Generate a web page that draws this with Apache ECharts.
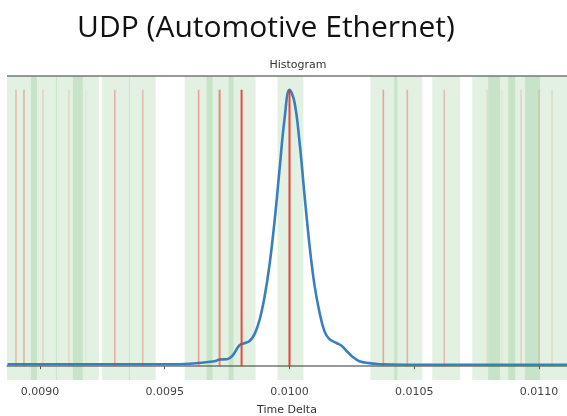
<!DOCTYPE html>
<html>
<head>
<meta charset="utf-8">
<script src="https://cdn.jsdelivr.net/npm/echarts@6/dist/echarts.min.js"></script>
<style>html,body{margin:0;padding:0;background:#fff}#c{width:567px;height:416px}</style>
</head>
<body>
<div id="c"></div>
<script>
// ---- data ----
var tickValues = [0.0090, 0.0095, 0.0100, 0.0105, 0.0110];

// density curve (Time Delta, normalised density)
var curveX = [0.00887, 0.0092, 0.0095, 0.0096, 0.00970, 0.00972, 0.00975, 0.00977, 0.00980, 0.00982,
              0.00984, 0.00986, 0.00988, 0.00990, 0.00992, 0.00994, 0.00996, 0.00998, 0.01000, 0.01002,
              0.01004, 0.01006, 0.01008, 0.01010, 0.01012, 0.01014, 0.01016, 0.01019, 0.01021, 0.01023,
              0.01025, 0.01028, 0.01032, 0.01036, 0.0106, 0.01112];
var curveY = [0.007, 0.007, 0.007, 0.009, 0.018, 0.024, 0.025, 0.036, 0.076, 0.083,
              0.091, 0.116, 0.167, 0.250, 0.367, 0.523, 0.711, 0.893, 1.000, 0.955,
              0.813, 0.621, 0.439, 0.294, 0.196, 0.127, 0.098, 0.083, 0.073, 0.054,
              0.036, 0.018, 0.011, 0.007, 0.005, 0.005];

// marker lines (position, weight)
var markerX = [0.008904, 0.008936, 0.009012, 0.009116, 0.009184, 0.009300, 0.009412, 0.009636, 0.009720, 0.009808,
               0.010000, 0.010376, 0.010472, 0.010620, 0.010792, 0.010852, 0.010928, 0.011000, 0.011052];
var markerW = [0.28, 0.32, 0.14, 0.12, 0.04, 0.32, 0.26, 0.38, 0.55, 0.85,
               0.9, 0.38, 0.32, 0.26, 0.1, 0.05, 0.16, 0.16, 0.12];

// highlighted intervals
var bandStart = [0.008844, 0.008964, 0.009064, 0.009132, 0.009248, 0.009356, 0.009580, 0.009668, 0.009756, 0.009952,
                 0.010324, 0.010420, 0.010572, 0.010732, 0.010796, 0.010876, 0.010944];
var bandEnd   = [0.008988, 0.009068, 0.009172, 0.009236, 0.009360, 0.009464, 0.009692, 0.009776, 0.009864, 0.010056,
                 0.010432, 0.010532, 0.010684, 0.010844, 0.010904, 0.011004, 0.011124];

// ---- chart ----
var curveData = curveX.map(function (x, i) { return [x, curveY[i]]; });
var markerData = markerX.map(function (x, i) { return [x, markerW[i]]; });
var bandData = bandStart.map(function (s, i) { return [s, bandEnd[i]]; });

var chart = echarts.init(document.getElementById('c'), null, {renderer: 'canvas'});
chart.setOption({
  animation: false,
  backgroundColor: '#fff',
  title: [
    {text: 'UDP (Automotive Ethernet)', left: 261, top: 8, textAlign: 'center',
     textStyle: {fontFamily: 'Open Sans', fontSize: 30, fontWeight: 'normal', color: '#111'}},
    {text: 'Histogram', left: 293, top: 55, textAlign: 'center',
     textStyle: {fontFamily: 'DejaVu Sans', fontSize: 11, fontWeight: 'normal', color: '#333'}}
  ],
  grid: {left: 7, right: 0, top: 76, bottom: 36, show: false, outerBoundsMode: 'none', containLabel: false},
  xAxis: {
    type: 'value', min: 0.008868, max: 0.011112,
    name: 'Time Delta', nameLocation: 'middle', nameGap: 25,
    nameTextStyle: {fontFamily: 'DejaVu Sans', fontSize: 11, color: '#333'},
    axisLine: {lineStyle: {color: '#777', width: 1.5}},
    axisTick: {customValues: tickValues, length: 3, lineStyle: {color: '#555'}},
    axisLabel: {customValues: tickValues, fontFamily: 'DejaVu Sans', fontSize: 11, color: '#444', margin: 7,
      formatter: function (v) { return v.toFixed(4); }},
    splitLine: {show: false}
  },
  yAxis: {type: 'value', min: -0.05, max: 1.05, show: false, splitLine: {show: false}},
  series: [
    {
      type: 'custom', data: bandData, z: 1, silent: true,
      renderItem: function (params, api) {
        var a = api.coord([api.value(0), 0]);
        var b = api.coord([api.value(1), 0]);
        var cs = params.coordSys;
        var r = echarts.graphic.clipRectByRect(
          {x: a[0], y: cs.y, width: b[0] - a[0], height: cs.height},
          {x: cs.x, y: cs.y, width: cs.width, height: cs.height});
        if (!r) return;
        return {type: 'rect', shape: r, style: {fill: 'rgba(20,140,20,0.12)'}};
      }
    },
    {
      type: 'line', data: curveData, z: 3, showSymbol: false, smooth: 0.4,
      lineStyle: {color: '#3a7fbd', width: 2.6}
    },
    {
      type: 'custom', data: markerData, z: 4, silent: true,
      renderItem: function (params, api) {
        var p0 = api.coord([api.value(0), 0]);
        var p1 = api.coord([api.value(0), 1]);
        var w = api.value(1);
        return {type: 'line', shape: {x1: p0[0], y1: p0[1], x2: p1[0], y2: p1[1]},
          style: {stroke: 'rgba(235,45,35,' + w + ')', lineWidth: w > 0.5 ? 2 : 1.6}};
      }
    }
  ]
});
// top spine
var cs = chart.getModel().getComponent('grid').coordinateSystem.getRect();
chart.setOption({graphic: [{type: 'line', shape: {x1: cs.x, y1: cs.y, x2: cs.x + cs.width, y2: cs.y},
  style: {stroke: '#777', lineWidth: 1.5}, z: 10}]});
</script>
</body>
</html>
